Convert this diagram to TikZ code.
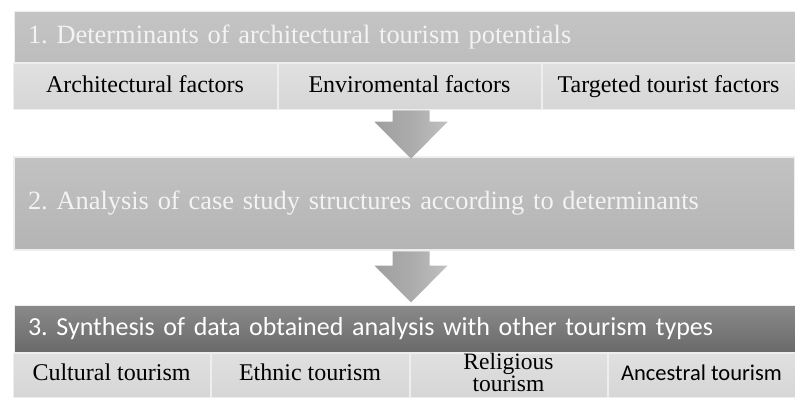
\documentclass[tikz,border=0pt]{standalone}
\usepackage{fontspec}
\setmainfont{Liberation Serif}
\newfontfamily\calibrifont{Carlito}
\frenchspacing
\definecolor{headgray}{RGB}{189,189,189}
\definecolor{headtop}{RGB}{196,196,196}
\definecolor{cellgray}{RGB}{214,214,214}
\definecolor{celltop}{RGB}{224,224,224}
\definecolor{midtop}{RGB}{194,194,194}
\definecolor{midbottom}{RGB}{180,180,180}
\definecolor{darktop}{RGB}{138,138,138}
\definecolor{darkbottom}{RGB}{106,106,106}
\definecolor{edgelight}{RGB}{238,238,238}
\definecolor{arrowdark}{RGB}{158,158,158}
\definecolor{arrowlight}{RGB}{192,192,192}
\definecolor{paletext}{RGB}{243,243,243}
\usepackage{tikz}

\tikzset{
  headbar/.style={draw=edgelight,line width=1pt,text width=753pt,inner xsep=14pt,
                  align=left,text=paletext,font=\fontsize{26.4}{28}\selectfont},
  factorcell/.style={draw=edgelight,line width=1pt,top color=celltop,bottom color=cellgray,
                     minimum height=46pt,inner sep=0pt,align=center,
                     text height=16.5pt,text depth=5pt,
                     font=\fontsize{24}{24}\selectfont},
  typecell/.style={factorcell,minimum height=44pt},
  arrowfill/.style={left color=arrowdark,right color=arrowlight,middle color=arrowdark!60!arrowlight}
}

% block arrow pointing down: #1 top of shaft, #2 tip
\newcommand{\blockdown}[2]{%
  \shade[arrowfill]
    ([xshift=-18.5pt]#1) -- ([xshift=18.5pt]#1)
    -- ([xshift=18.5pt,yshift=37pt]#2) -- ([xshift=36.5pt,yshift=37pt]#2)
    -- (#2)
    -- ([xshift=-36.5pt,yshift=37pt]#2) -- ([xshift=-18.5pt,yshift=37pt]#2) -- cycle;}

\begin{document}
\begin{tikzpicture}[x=1pt,y=1pt]
  \useasboundingbox (0,0) rectangle (795,397);

  % Step 1: determinants and their factors
  \node[headbar,top color=headtop,bottom color=headgray,minimum height=51pt]
    (determ) at (404.5,359.5) {1. Determinants of architectural tourism potentials};
  \node[factorcell,minimum width=264pt] (archfac) at (145,310) {Architectural factors};
  \node[factorcell,minimum width=263pt] (envfac) at (409.5,310) {Enviromental factors};
  \node[factorcell,minimum width=253pt] (tourfac) at (668.5,310) {Targeted tourist factors};

  % Step 2: analysis
  \node[headbar,top color=midtop,bottom color=midbottom,line width=2.5pt,minimum height=93pt]
    (analysis) at (404.5,193.5) {2. Analysis of case study structures according to determinants};

  % Step 3: synthesis and tourism types
  \node[headbar,top color=darktop,bottom color=darkbottom,text=white,
        font=\calibrifont\fontsize{26}{28}\selectfont,minimum height=47pt]
    (synth) at (404.5,68.5) {3. Synthesis of data obtained analysis with other tourism types};
  \node[typecell,minimum width=197pt] (cultural) at (111.5,22) {Cultural tourism};
  \node[typecell,minimum width=198pt] (ethnic) at (310,22) {Ethnic tourism};
  \node[typecell,minimum width=197pt,font=\fontsize{23.5}{20.5}\selectfont]
    (religious) at (508.5,22) {};
  \node[align=center,inner sep=0pt,font=\fontsize{23.5}{20.5}\selectfont]
    (religtext) at ([yshift=2.5pt]religious.center) {Religious\\tourism};
  \node[typecell,minimum width=187pt,font=\calibrifont\fontsize{22.5}{24}\selectfont]
    (ancestral) at (701.5,22) {Ancestral tourism};

  % Arrows between the steps
  \coordinate (tip1) at ([xshift=6.5pt,yshift=-3pt]analysis.north);
  \coordinate (top1) at (tip1 |- envfac.south);
  \blockdown{top1}{tip1}

  \coordinate (tip2) at ([xshift=6.5pt,yshift=2pt]synth.north);
  \coordinate (top2) at (tip2 |- analysis.south);
  \blockdown{top2}{tip2}
\end{tikzpicture}
\end{document}
